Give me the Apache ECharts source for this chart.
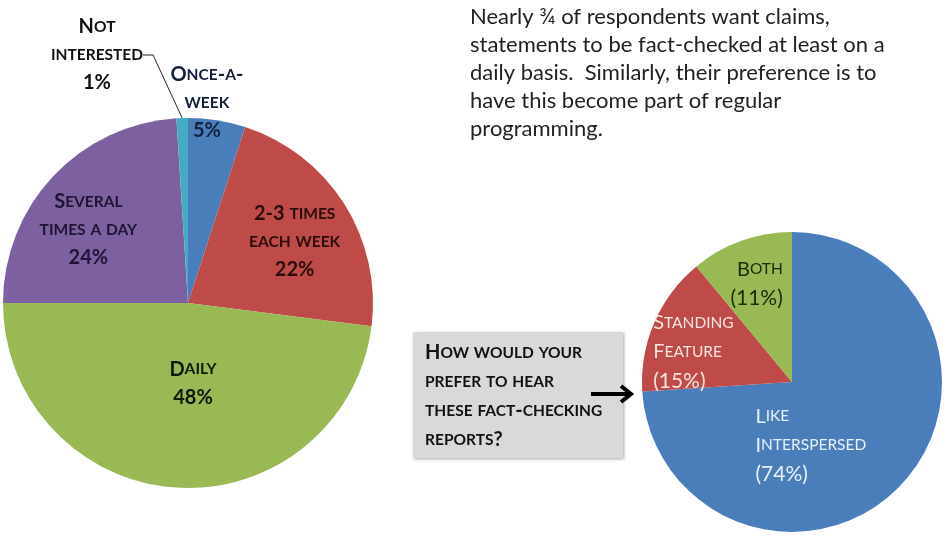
<!DOCTYPE html>
<html><head><meta charset="utf-8">
<script src="https://cdn.jsdelivr.net/npm/echarts@6/dist/echarts.min.js"></script>
<style>html,body{margin:0;padding:0;background:#fff}#c{width:948px;height:540px}</style>
</head><body><div id="c"></div>
<script>
// ---- data ----
const freqNames = ['Once-a-week', '2-3 times each week', 'Daily', 'Several times a day', 'Not interested'];
const freqValues = [5, 22, 48, 24, 1];
const freqLabelLines = [['Once-a-', 'week'], ['2-3 times', 'each week'], ['Daily'], ['Several', 'times a day'], ['Not', 'interested']];
const prefNames = ['Like Interspersed', 'Standing Feature', 'Both'];
const prefValues = [74, 15, 11];
const prefLabelLines = [['Like', 'Interspersed'], ['Standing', 'Feature'], ['Both']];
const noteLines = [
  'Nearly \u00BE of respondents want claims,',
  'statements to be fact-checked at least on a',
  'daily basis.  Similarly, their preference is to',
  'have this become part of regular',
  'programming.'
];
const questionLines = ['How would your', 'prefer to hear', 'these fact-checking', 'reports?'];

// ---- styles ----
const FONT = 'Lato, "Open Sans", sans-serif';
const BIG = 20, SMALL = 15.5;
const freqColors = ['#4a7ebb', '#be4b48', '#98b954', '#7d60a0', '#46aac5'];
const freqTextColors = ['#13203a', '#2a0d0c', '#0f1805', '#1e1433', '#111111'];
const freqOffsets = [[4, -106], [26, -10], [11, -15], [-30, -8], [0, 0]];
const prefColors = ['#4a7ebb', '#be4b48', '#98b954'];
const prefTextColors = ['#e8effa', '#f8e4e3', '#1b2a08'];
const prefAlign = ['left', 'left', 'right'];
const prefOffsets = [[-38, 10], [-27, 1], [-9, -25]];

// small caps: lowercase -> smaller uppercase
function sc(str, big, small) {
  let out = '', run = '', runLower = null;
  const flush = () => { if (run) out += '{' + (runLower ? small : big) + '|' + run + '}'; run = ''; };
  for (const ch of str) {
    const lower = ch !== ch.toUpperCase();
    if (runLower !== null && lower !== runLower) flush();
    runLower = lower;
    run += lower ? ch.toUpperCase() : ch;
  }
  flush();
  return out;
}

const freqData = freqNames.map((n, i) => {
  const item = {
    name: n, value: freqValues[i],
    itemStyle: { color: freqColors[i] },
    label: {
      color: freqTextColors[i],
      formatter: freqLabelLines[i].map(l => sc(l, 'b', 's')).join('\n') + '\n{b|' + freqValues[i] + '%}',
      rich: {
        b: { fontSize: BIG, fontWeight: 'bold', lineHeight: 28, fontFamily: FONT },
        s: { fontSize: SMALL, fontWeight: 'bold', lineHeight: 28, fontFamily: FONT }
      }
    }
  };
  if (i === 4) {
    item.label.position = 'outside';
    item.labelLine = { show: true, length: 10, length2: 10, lineStyle: { color: '#222', width: 1 } };
  }
  return item;
});

const prefData = prefNames.map((n, i) => ({
  name: n, value: prefValues[i],
  itemStyle: { color: prefColors[i] },
  label: {
    color: prefTextColors[i],
    formatter: prefLabelLines[i].map(l => sc(l, 'b', 's')).join('\n') + '\n{p|(' + prefValues[i] + '%)}',
    rich: {
      b: { fontSize: BIG, lineHeight: 29, fontFamily: FONT, align: prefAlign[i] },
      s: { fontSize: SMALL, lineHeight: 29, fontFamily: FONT, align: prefAlign[i] },
      p: { fontSize: 21, lineHeight: 29, fontFamily: FONT, align: prefAlign[i] }
    }
  }
}));

const chart = echarts.init(document.getElementById('c'), null, { renderer: 'canvas' });
chart.setOption({
  animation: false,
  backgroundColor: '#ffffff',
  series: [
    {
      type: 'pie', center: [188, 303], radius: 185, startAngle: 90, clockwise: true,
      avoidLabelOverlap: false, silent: true,
      label: { show: true, position: 'inside', fontFamily: FONT },
      labelLine: { show: false },
      labelLayout: function (p) {
        if (p.dataIndex === 4) return { x: 97, y: 55, align: 'center', verticalAlign: 'middle' };
        const o = freqOffsets[p.dataIndex];
        return { dx: o[0], dy: o[1] };
      },
      data: freqData
    },
    {
      type: 'pie', center: [792, 382], radius: 150, startAngle: 90, clockwise: true,
      avoidLabelOverlap: false, silent: true,
      label: { show: true, position: 'inside', fontFamily: FONT },
      labelLine: { show: false },
      labelLayout: function (p) {
        const o = prefOffsets[p.dataIndex];
        return { dx: o[0], dy: o[1] };
      },
      data: prefData
    }
  ],
  graphic: [
    {
      type: 'text', x: 470, y: 3,
      style: { text: noteLines.join('\n'), fontFamily: FONT, fontSize: 22, lineHeight: 28, fill: '#222222' }
    },
    {
      type: 'rect', shape: { x: 413, y: 332, width: 210, height: 126 },
      style: { fill: '#d9d9d9', shadowBlur: 3, shadowColor: 'rgba(0,0,0,0.35)', shadowOffsetX: 1, shadowOffsetY: 1 }
    },
    {
      type: 'text', x: 425, y: 338,
      style: {
        text: questionLines.map(l => sc(l, 'b', 's')).join('\n'),
        fill: '#111111',
        rich: {
          b: { fontSize: BIG, fontWeight: 'bold', lineHeight: 29, fontFamily: FONT, fill: '#111111' },
          s: { fontSize: SMALL, fontWeight: 'bold', lineHeight: 29, fontFamily: FONT, fill: '#111111' }
        }
      }
    },
    {
      type: 'polyline', shape: { points: [[591, 394], [629, 394]] },
      style: { stroke: '#000', lineWidth: 4 }
    },
    {
      type: 'polyline', shape: { points: [[621, 386], [631, 394], [621, 402]] },
      style: { stroke: '#000', lineWidth: 4, fill: null }
    }
  ]
});
</script>
</body></html>
